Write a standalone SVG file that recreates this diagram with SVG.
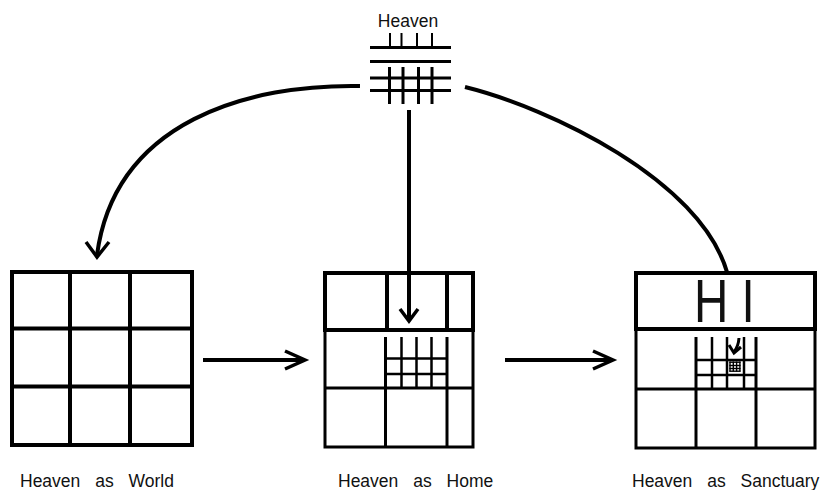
<svg xmlns="http://www.w3.org/2000/svg" width="824" height="490" viewBox="0 0 824 490">
<style>
  .ln { stroke: #000; fill: none; stroke-linecap: butt; }
  .w4 { stroke-width: 4; }
  .w3 { stroke-width: 3; }
  .w25 { stroke-width: 2.5; }
  .w2 { stroke-width: 2; }
  .lbl { font-family: "Liberation Sans", Arial, sans-serif; font-size: 17.5px; fill: #111; word-spacing: 10px; }
  .hi { font-family: "Liberation Sans", Arial, sans-serif; font-size: 61px; fill: #111; }
</style>
<rect width="824" height="490" fill="#fff"/>

<g id="heaven">
  <text x="408" y="27" text-anchor="middle" class="lbl">Heaven</text>
  <g class="ln w2">
    <line x1="390" y1="33" x2="390" y2="48"/>
    <line x1="401.5" y1="33" x2="401.5" y2="48"/>
    <line x1="417" y1="33" x2="417" y2="48"/>
    <line x1="432" y1="33" x2="432" y2="48"/>
  </g>
  <g class="ln w3">
    <line x1="370" y1="47.5" x2="451" y2="47.5"/>
    <line x1="370" y1="61.5" x2="451" y2="61.5"/>
    <line x1="370" y1="78" x2="451" y2="78"/>
    <line x1="370" y1="90.5" x2="451" y2="90.5"/>
    <line x1="389.5" y1="67" x2="389.5" y2="104"/>
    <line x1="403" y1="67" x2="403" y2="104"/>
    <line x1="418.5" y1="67" x2="418.5" y2="104"/>
    <line x1="432" y1="67" x2="432" y2="104"/>
  </g>
</g>

<g id="world">
  <g class="ln w4">
    <rect x="12" y="272" width="180" height="173"/>
    <line x1="70" y1="272" x2="70" y2="445"/>
    <line x1="130" y1="272" x2="130" y2="445"/>
    <line x1="12" y1="328.5" x2="192" y2="328.5"/>
    <line x1="12" y1="386.5" x2="192" y2="386.5"/>
  </g>
  <text x="20" y="486.5" class="lbl">Heaven as World</text>
</g>

<g id="home">
  <g class="ln w4">
    <rect x="325" y="273" width="148" height="57"/>
    <line x1="387" y1="273" x2="387" y2="330"/>
    <line x1="447" y1="273" x2="447" y2="330"/>
  </g>
  <g class="ln w3">
    <polyline points="325,330 325,447 473,447 473,330"/>
    <line x1="325" y1="388" x2="473" y2="388"/>
    <line x1="385.5" y1="337" x2="385.5" y2="447"/>
    <line x1="447" y1="337" x2="447" y2="447"/>
  </g>
  <g class="ln w25">
    <line x1="401.5" y1="337" x2="401.5" y2="388"/>
    <line x1="416.5" y1="337" x2="416.5" y2="388"/>
    <line x1="431.5" y1="337" x2="431.5" y2="388"/>
    <line x1="385.5" y1="358.5" x2="447" y2="358.5"/>
    <line x1="385.5" y1="374" x2="447" y2="374"/>
  </g>
  <text x="338" y="486.5" class="lbl">Heaven as Home</text>
</g>

<g id="sanctuary">
  <g class="ln w4">
    <rect x="636" y="273" width="179" height="56"/>
  </g>
  <text class="hi" transform="translate(694,322) scale(0.78,1)" x="0" y="0" xml:space="preserve">H I</text>
  <g class="ln w3">
    <polyline points="636,329 636,448 815,448 815,329"/>
    <line x1="636" y1="389" x2="815" y2="389"/>
    <line x1="696" y1="337" x2="696" y2="448"/>
    <line x1="756" y1="337" x2="756" y2="448"/>
  </g>
  <g class="ln w25">
    <line x1="712" y1="337" x2="712" y2="389"/>
    <line x1="727" y1="337" x2="727" y2="389"/>
    <line x1="744" y1="337" x2="744" y2="389"/>
    <line x1="696" y1="360" x2="756" y2="360"/>
    <line x1="696" y1="375" x2="756" y2="375"/>
  </g>
  <g class="ln" stroke-width="1.4">
    <line x1="730" y1="361.5" x2="730" y2="371.5"/>
    <line x1="733.3" y1="361.5" x2="733.3" y2="371.5"/>
    <line x1="736.6" y1="361.5" x2="736.6" y2="371.5"/>
    <line x1="739.9" y1="361.5" x2="739.9" y2="371.5"/>
    <line x1="729.3" y1="362.2" x2="740.6" y2="362.2"/>
    <line x1="729.3" y1="365.5" x2="740.6" y2="365.5"/>
    <line x1="729.3" y1="368.5" x2="740.6" y2="368.5"/>
    <line x1="729.3" y1="371.2" x2="740.6" y2="371.2"/>
  </g>
  <g class="ln" stroke-width="3">
    <path d="M739,338 Q738.5,346 734,352"/>
    <polyline points="729,345 734,353 741,347"/>
  </g>
  <text x="632" y="486.5" class="lbl">Heaven as Sanctuary</text>
</g>

<g id="connectors" class="ln w4">
  <path d="M360,86 C250,84 115,120 97,255"/>
  <polyline points="86,242 97,257 109,242" stroke-width="3.5"/>
  <line x1="409" y1="110" x2="409" y2="320"/>
  <polyline points="400,309 409,321 418,309" stroke-width="3.5"/>
  <path d="M465,87 C550,108 700,180 727,272"/>
  <line x1="203" y1="360" x2="303" y2="360"/>
  <polyline points="285,351 305,360 285,369" stroke-width="3.5"/>
  <line x1="505" y1="360" x2="611" y2="360"/>
  <polyline points="593,351 613,360 593,369" stroke-width="3.5"/>
</g>
</svg>
